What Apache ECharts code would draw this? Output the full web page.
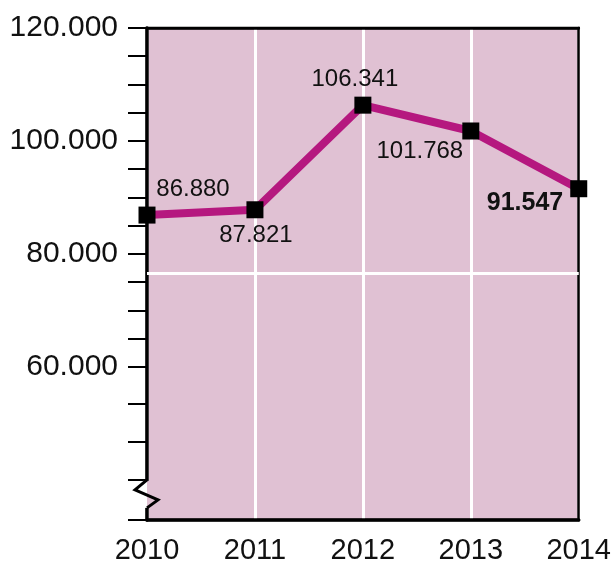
<!DOCTYPE html>
<html>
<head>
<meta charset="utf-8">
<script src="https://cdn.jsdelivr.net/npm/echarts@6/dist/echarts.min.js"></script>
<style>html,body{margin:0;padding:0;background:#fff}#c{width:614px;height:566px}</style>
</head>
<body>
<div id="c"></div>
<script>
var years = ['2010', '2011', '2012', '2013', '2014'];
var values = [86880, 87821, 106341, 101768, 91547];
var valueLabels = ['86.880', '87.821', '106.341', '101.768', '91.547'];
var yLabelValues = [60000, 80000, 100000, 120000];
var yTickValues = [32900, 40000, 46700, 53400, 60000, 65000, 70000, 75000, 80000, 85000, 90000, 95000, 100000, 105000, 110000, 115000, 120000];
var refLineValue = 76600;
var yMin = 32900, yMax = 120000;

var FONT = '"Liberation Sans", Arial, Helvetica, sans-serif';
var PINK = '#e0c1d3';
var labelStyles = [
  {position: 'top', offset: [46, 0]},
  {position: 'bottom', offset: [1, 0]},
  {position: 'top', offset: [-8, 0]},
  {position: 'bottom', offset: [-51, -5]},
  {position: 'left', offset: [-2, 14], fontWeight: 'bold', fontSize: 25}
];

var data = values.map(function (v, i) {
  var s = labelStyles[i];
  return {
    value: v,
    label: {
      show: true,
      position: s.position,
      offset: s.offset,
      fontWeight: s.fontWeight || 'normal',
      fontSize: s.fontSize || 24,
      formatter: valueLabels[i]
    }
  };
});

var chart = echarts.init(document.getElementById('c'));
chart.setOption({
  animation: false,
  grid: {
    left: 147, right: 35, top: 28, bottom: 46,
    show: true, backgroundColor: PINK, borderColor: '#000', borderWidth: 2.5
  },
  xAxis: [{
    type: 'category',
    data: years,
    boundaryGap: false,
    axisLine: {show: true, lineStyle: {color: '#000', width: 3.5}},
    axisTick: {show: false},
    axisLabel: {color: '#111', fontSize: 29, fontFamily: FONT, margin: 16},
    splitLine: {show: true, lineStyle: {color: '#fff', width: 3}}
  }, {
    type: 'category',
    data: years,
    boundaryGap: false,
    position: 'top',
    axisLine: {show: true, lineStyle: {color: '#000', width: 2.5}},
    axisTick: {show: false},
    axisLabel: {show: false},
    splitLine: {show: false}
  }],
  yAxis: [{
    type: 'value',
    min: yMin, max: yMax,
    axisLine: {show: true, lineStyle: {color: '#000', width: 3.5}},
    axisTick: {show: true, length: 19, lineStyle: {color: '#000', width: 2}, customValues: yTickValues},
    axisLabel: {
      color: '#111', fontSize: 30, fontFamily: FONT, margin: 29,
      customValues: yLabelValues,
      formatter: function (v) { return (v / 1000).toFixed(0) + '.000'; }
    },
    splitLine: {show: false}
  }, {
    type: 'value',
    min: yMin, max: yMax,
    position: 'right',
    axisLine: {show: true, lineStyle: {color: '#000', width: 2.5}},
    axisTick: {show: false},
    axisLabel: {show: false},
    splitLine: {show: false}
  }],
  series: [{
    type: 'line',
    data: data,
    symbol: 'rect',
    symbolSize: 17,
    itemStyle: {color: '#000'},
    lineStyle: {color: '#b5187f', width: 8},
    label: {color: '#111', fontFamily: FONT},
    markLine: {
      silent: true,
      symbol: ['none', 'none'],
      label: {show: false},
      lineStyle: {color: '#fff', width: 3, type: 'solid'},
      data: [{yAxis: refLineValue}]
    },
    z: 3
  }]
});

// axis break decoration
var x0 = chart.convertToPixel({xAxisIndex: 0}, 0);
var yb = chart.convertToPixel({yAxisIndex: 0}, 40000);
chart.setOption({
  graphic: [
    {type: 'rect', shape: {x: x0 - 4, y: yb + 1, width: 4, height: 27}, style: {fill: '#fff'}, z: 100},
    {type: 'rect', shape: {x: x0, y: yb + 1, width: 4, height: 27}, style: {fill: PINK}, z: 100},
    {type: 'polyline', shape: {points: [[x0, yb], [x0 - 12, yb + 10], [x0 + 11, yb + 20], [x0, yb + 28]]},
     style: {stroke: '#000', lineWidth: 3, fill: null}, z: 101}
  ]
});
</script>
</body>
</html>
